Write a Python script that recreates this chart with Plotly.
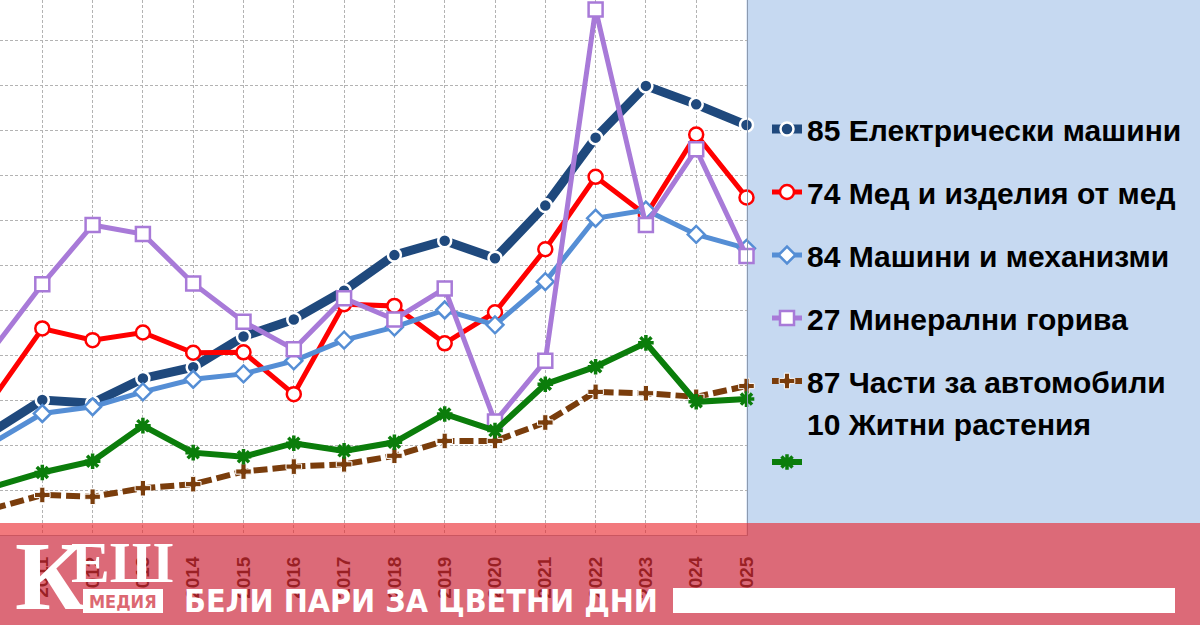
import plotly.graph_objects as go

# ---------------- data ----------------
years = list(range(2010, 2026))
elec_machines = [229, 300, 293, 348, 373, 441, 479, 543, 622, 654, 615, 732, 883, 998, 957, 911]
copper = [300, 459, 433, 450, 405, 406, 313, 513, 509, 426, 495, 635, 796, 711, 890, 750]
machinery = [204, 270, 285, 318, 346, 358, 387, 433, 462, 500, 467, 563, 704, 722, 668, 637]
fuels = [410, 557, 689, 669, 559, 474, 413, 526, 479, 548, 252, 387, 1168, 689, 857, 620]
auto_parts = [58, 89, 85, 104, 113, 141, 152, 157, 176, 209, 209, 250, 318, 315, 307, 331]
cereals = [106, 139, 164, 243, 183, 174, 204, 187, 206, 269, 232, 335, 374, 427, 296, 302]

series_names = [
    "85 Електрически машини",
    "74 Мед и изделия от мед",
    "84 Машини и механизми",
    "27 Минерални горива",
    "87 Части за автомобили",
    "10 Житни растения",
]
tick_labels = [str(y) for y in years]

W, H = 1200, 625
def fx(px):
    return px / W
def fy(py):
    return 1 - py / H

NAVY = "#1f497d"
RED = "#ff0000"
BLUE = "#558ed5"
PURPLE = "#a87ad8"
BROWN = "#7a3d0c"
GREEN = "#0b7d0b"

fig = go.Figure()

def add(y, name, color, width, symbol, msize, mcolor, mline_color, mline_w, group, dash="solid", legend_name=None):
    fig.add_trace(go.Scatter(
        x=years, y=y, name=legend_name or f"<b>{name}</b>",
        mode="lines+markers",
        line=dict(color=color, width=width, dash=dash),
        marker=dict(symbol=symbol, size=msize, color=mcolor,
                    line=dict(color=mline_color, width=mline_w)),
        cliponaxis=False, legendgroup=group,
    ))

add(elec_machines, series_names[0], NAVY, 9, "circle", 13, NAVY, "white", 2.5, "g1")
add(copper, series_names[1], RED, 5, "circle", 14, "white", RED, 2.5, "g2")
add(machinery, series_names[2], BLUE, 5, "diamond", 13, "white", BLUE, 2.5, "g3")
add(fuels, series_names[3], PURPLE, 5, "square", 14, "white", PURPLE, 2.5, "g4")
add(auto_parts, series_names[4], BROWN, 6, "cross", 13, BROWN, "white", 1, "g5", dash="14px,5px")
add(cereals, series_names[5], GREEN, 6, "asterisk-open", 13, GREEN, GREEN, 3.5, "g5",
    legend_name=f"<b>{series_names[5]}</b><br> ")

grid = dict(showgrid=True, gridcolor="#b3b3b3", gridwidth=1, griddash="3px,2px")

fig.update_layout(
    width=W, height=H,
    margin=dict(l=0, r=0, t=0, b=0),
    paper_bgcolor="#c6d9f1",
    plot_bgcolor="white",
    font=dict(family="Arial, Liberation Sans, sans-serif", color="black"),
    xaxis=dict(domain=[0, 746.5 / W], range=[2010.159, 2025.0],
               tickmode="array", tickvals=years, ticktext=tick_labels,
               tickangle=-90, ticks="", ticklabelstandoff=13,
               tickfont=dict(size=19, color="#1a1a1a", family="Arial, Liberation Sans", weight="bold"),
               showline=True, linecolor="#9aa5b5", linewidth=1, zeroline=False,
               automargin=False, fixedrange=True, **grid),
    yaxis=dict(domain=[fy(535), 1], range=[0, 1188.9], dtick=100, tick0=0,
               showticklabels=False, ticks="", side="right",
               showline=True, linecolor="#8c9ab0", linewidth=1, zeroline=False,
               automargin=False, fixedrange=True, **grid),
    showlegend=True,
    legend=dict(x=fx(767), y=fy(103), xanchor="left", yanchor="top",
                bgcolor="rgba(0,0,0,0)", borderwidth=0,
                font=dict(size=30, color="black", family="Arial, Liberation Sans"),
                tracegroupgap=21, valign="bottom", itemwidth=30,
                traceorder="grouped"),
)

shapes = [
    # semi-transparent banner
    dict(type="rect", xref="paper", yref="paper", x0=0, x1=1, y0=0, y1=fy(523),
         fillcolor="rgba(234,36,42,0.61)", line=dict(width=0), layer="above"),
    # white box for "медиа"
    dict(type="rect", xref="paper", yref="paper", x0=fx(83), x1=fx(163), y0=fy(613), y1=fy(589),
         fillcolor="white", line=dict(width=0), layer="above"),
    # white bar
    dict(type="rect", xref="paper", yref="paper", x0=fx(673), x1=fx(1175), y0=fy(613), y1=fy(588),
         fillcolor="white", line=dict(width=0), layer="above"),
]
fig.update_layout(shapes=shapes)

annotations = [
    dict(text="К", x=fx(50), y=fy(576), xref="paper", yref="paper", showarrow=False,
         xanchor="center", yanchor="middle",
         font=dict(family="Liberation Serif, DejaVu Serif, serif", size=98, color="white", weight="bold")),
    dict(text="ЕШ", x=fx(122), y=fy(562), xref="paper", yref="paper", showarrow=False,
         xanchor="center", yanchor="middle",
         font=dict(family="Liberation Serif, DejaVu Serif, serif", size=58, color="white", weight="bold")),
    dict(text="<b>МЕДИЯ</b>", x=fx(123), y=fy(601), xref="paper", yref="paper", showarrow=False,
         xanchor="center", yanchor="middle",
         font=dict(family="DejaVu Sans Condensed, DejaVu Sans, Arial", size=18, color="#dc6872")),
    dict(text="<b>БЕЛИ ПАРИ ЗА ЦВЕТНИ ДНИ</b>", x=fx(182), y=fy(601), xref="paper", yref="paper",
         showarrow=False, xanchor="left", yanchor="middle",
         font=dict(family="DejaVu Sans Condensed, DejaVu Sans, Arial", size=32, color="white")),
]
fig.update_layout(annotations=annotations)

fig.write_html("out.html")
